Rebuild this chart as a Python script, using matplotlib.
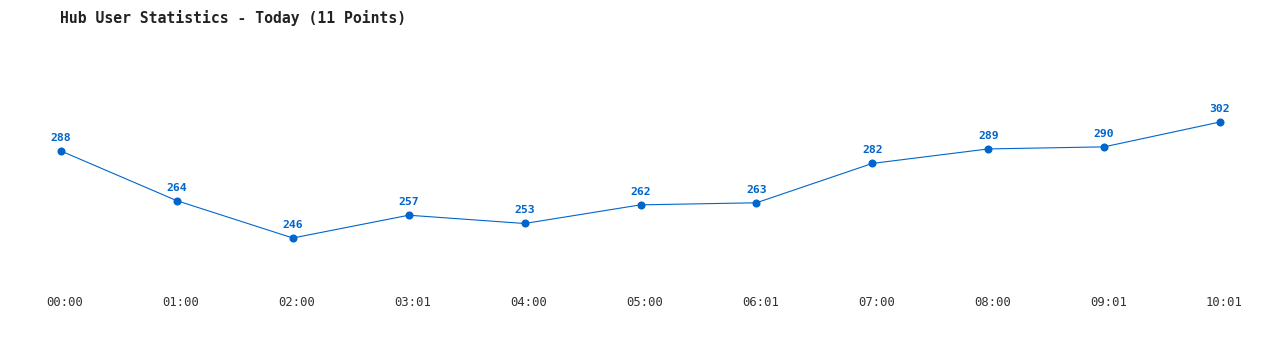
import matplotlib
matplotlib.use("Agg")
import matplotlib.pyplot as plt
import matplotlib.transforms as mtrans

# ── Data ──────────────────────────────────────────────────────────────────────
TIMES = ["00:00", "01:00", "02:00", "03:01", "04:00", "05:00",
         "06:01", "07:00", "08:00", "09:01", "10:01"]
USERS = [288, 264, 246, 257, 253, 262, 263, 282, 289, 290, 302]

TITLE = "Hub User Statistics - Today (11 Points)"
BLUE = "#0066CC"
FONT = "DejaVu Sans Mono"

W, H = 1280, 350
fig = plt.figure(figsize=(W / 100, H / 100), dpi=100)
ax = fig.add_axes([0, 0, 1, 1])
ax.set_axis_off()

# pixel layout: first point at x=61, last at x=1220; 302 -> y=122, 246 -> y=238
x = list(range(len(USERS)))
step = (1220 - 61) / (len(USERS) - 1)
ax.set_xlim(-61 / step, (W - 61) / step)
ppu = (238 - 122) / (302 - 246)
ax.set_ylim(302 - (H - 122) / ppu, 302 + 122 / ppu)

ax.plot(x, USERS, color=BLUE, lw=0.8, marker="o", ms=4.8, mec=BLUE, mfc=BLUE)

for xi, v in zip(x, USERS):
    ax.annotate(str(v), (xi, v), xytext=(0, 9.5), textcoords="offset points",
                ha="center", va="center", fontsize=8.2, fontweight="bold",
                color=BLUE, family=FONT)

trans = mtrans.blended_transform_factory(ax.transData, fig.transFigure)
for xi, lab in zip(x, TIMES):
    ax.annotate(lab, (xi, 1 - 303 / H), xycoords=trans, xytext=(3, 0),
                textcoords="offset points", ha="center", va="center",
                fontsize=8.8, color="#333333", family=FONT)

fig.text(60 / W, 1 - 18 / H, TITLE, ha="left", va="center",
         fontsize=10.6, fontweight="bold", color="#222222", family=FONT)

fig.savefig("out.png", dpi=100)
